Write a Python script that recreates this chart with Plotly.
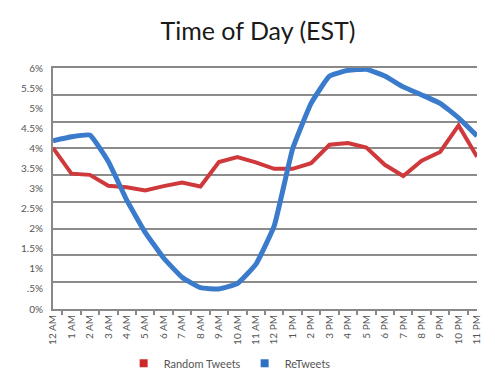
import plotly.graph_objects as go

hours = ["12 AM", "1 AM", "2 AM", "3 AM", "4 AM", "5 AM", "6 AM", "7 AM", "8 AM", "9 AM",
         "10 AM", "11 AM", "12 PM", "1 PM", "2 PM", "3 PM", "4 PM", "5 PM", "6 PM", "7 PM",
         "8 PM", "9 PM", "10 PM", "11 PM"]
random_tweets = [4.01, 3.37, 3.34, 3.07, 3.03, 2.95, 3.06, 3.15, 3.05, 3.66, 3.78, 3.65,
                 3.49, 3.49, 3.63, 4.09, 4.13, 4.02, 3.59, 3.31, 3.69, 3.91, 4.57, 3.79]
retweets = [4.19, 4.29, 4.33, 3.67, 2.71, 1.91, 1.27, 0.79, 0.53, 0.50, 0.63, 1.11,
            2.07, 3.99, 5.12, 5.80, 5.94, 5.97, 5.80, 5.53, 5.33, 5.12, 4.76, 4.31]
y_tick_vals = [0, 0.5, 1, 1.5, 2, 2.5, 3, 3.5, 4, 4.5, 5, 5.5, 6]
y_tick_text = ["0%", ".5%", "1%", "1.5%", "2%", "2.5%", "3%", "3.5%", "4%", "4.5%", "5%", "5.5%", "6%"]
grid_vals = [i * 6 / 9 for i in range(10)]

red = "#d0393b"
blue = "#3b7bcb"

fig = go.Figure()
fig.add_trace(go.Scatter(x=hours, y=random_tweets, name="Random Tweets", mode="lines",
                         line=dict(color=red, width=4), showlegend=False))
fig.add_trace(go.Scatter(x=hours, y=retweets, name="ReTweets", mode="lines", yaxis="y2",
                         line=dict(color=blue, width=5, shape="spline", smoothing=0.35),
                         showlegend=False))
# legend entries (square swatches)
fig.add_trace(go.Scatter(x=[None], y=[None], name="Random Tweets", mode="markers",
                         marker=dict(symbol="square", size=8, color="#cc2a2a")))
fig.add_trace(go.Scatter(x=[None], y=[None], name="ReTweets", mode="markers",
                         marker=dict(symbol="square", size=8, color="#2f6fc4")))

tick_font = dict(family="Lato, Noto Sans, sans-serif", size=10, color="#555555")
fig.update_layout(
    width=495, height=382,
    margin=dict(l=45, r=26, t=60, b=73),
    paper_bgcolor="white", plot_bgcolor="white",
    title=dict(text="Time of Day (EST)", x=0.505, xanchor="center", y=0.94, yanchor="middle",
               font=dict(family="Lato, Noto Sans, sans-serif", size=25, color="#1a1a1a")),
    xaxis=dict(type="category", tickangle=-90, ticks="outside", tickson="boundaries",
               ticklen=4, tickcolor="#888888", tickwidth=2,
               showline=True, linecolor="#888888", linewidth=2, mirror=True,
               showgrid=False, tickfont=tick_font, fixedrange=True),
    yaxis=dict(range=[0, 6], tickvals=y_tick_vals, ticktext=y_tick_text,
               showgrid=False, showline=True, linecolor="#888888", linewidth=2,
               zeroline=False, tickfont=tick_font, ticks="", ticklabelstandoff=6),
    yaxis2=dict(range=[0, 6], overlaying="y", side="left", tickvals=grid_vals,
                showticklabels=False, showgrid=True, gridcolor="#8c8c8c", gridwidth=2,
                zeroline=False, showline=False, ticks=""),
    legend=dict(orientation="h", x=0.452, xanchor="center", y=-0.165, yanchor="top",
                font=dict(family="Lato, Noto Sans, sans-serif", size=11, color="#555555"),
                itemwidth=30, entrywidth=76, entrywidthmode="pixels"),
)
fig.write_html("out.html")
